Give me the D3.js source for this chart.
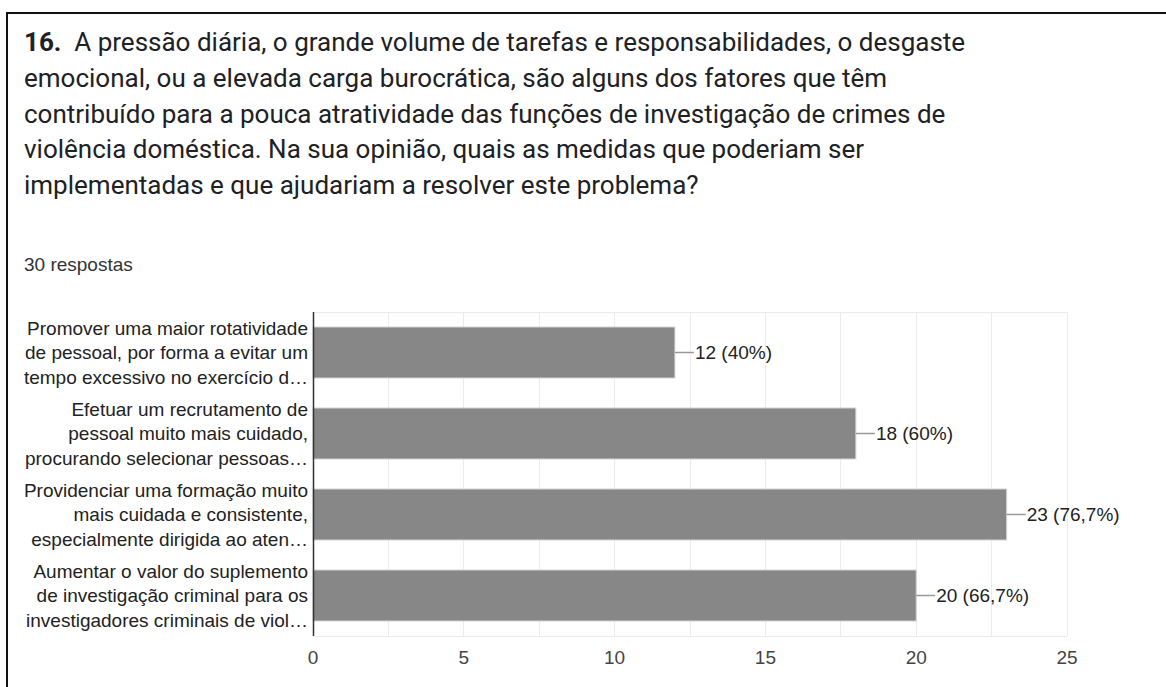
<!DOCTYPE html>
<html><head><meta charset="utf-8">
<script src="https://cdn.jsdelivr.net/npm/d3@7"></script>
<style>
html,body{margin:0;padding:0;background:#fff;}
svg{display:block;}
</style></head>
<body>
<svg id="c" width="1166" height="687"></svg>
<script>
const titleNumber = "16.";
const titleLines = [
  "  A pressão diária, o grande volume de tarefas e responsabilidades, o desgaste",
  "emocional, ou a elevada carga burocrática, são alguns dos fatores que têm",
  "contribuído para a pouca atratividade das funções de investigação de crimes de",
  "violência doméstica. Na sua opinião, quais as medidas que poderiam ser",
  "implementadas e que ajudariam a resolver este problema?"
];
const subtitle = "30 respostas";
const totalResponses = 30;
const categories = [
  ["Promover uma maior rotatividade", "de pessoal, por forma a evitar um", "tempo excessivo no exercício d…"],
  ["Efetuar um recrutamento de", "pessoal muito mais cuidado,", "procurando selecionar pessoas…"],
  ["Providenciar uma formação muito", "mais cuidada e consistente,", "especialmente dirigida ao aten…"],
  ["Aumentar o valor do suplemento", "de investigação criminal para os", "investigadores criminais de viol…"]
];
const values = [12, 18, 23, 20];
const xTicks = [0, 5, 10, 15, 20, 25];
const xGrid = [0, 2.5, 5, 7.5, 10, 12.5, 15, 17.5, 20, 22.5, 25];

const svg = d3.select("#c");
const sans = "'Liberation Sans', Arial, sans-serif";

// frame
svg.append("path").attr("d", "M7,1200 L7,13 L1300,13")
  .attr("fill", "none").attr("stroke", "#111").attr("stroke-width", 2);

// title
const t = svg.append("text").attr("x", 24).attr("y", 51)
  .attr("font-family", "Roboto, sans-serif").attr("font-size", 26).attr("fill", "#202124")
  .style("white-space", "pre");
titleLines.forEach((ln, i) => {
  if (i === 0) {
    t.append("tspan").attr("x", 24).attr("y", 51).attr("font-weight", "bold").text(titleNumber);
    t.append("tspan").text(ln);
  } else {
    t.append("tspan").attr("x", 24).attr("y", 51 + i * 35.8).text(ln);
  }
});

svg.append("text").attr("x", 24).attr("y", 271)
  .attr("font-family", sans).attr("font-size", 19)
  .attr("fill", "#333").text(subtitle);

const pLeft = 313, pRight = 1067, pTop = 312, pBottom = 636;
const x = d3.scaleLinear().domain([0, 25]).range([pLeft, pRight]);
const y = d3.scaleBand().domain(d3.range(values.length)).range([pTop, pBottom]).paddingInner(0.37).paddingOuter(0.185);

const g = svg.append("g");
// grid
g.selectAll("line.grid").data(xGrid).join("line")
  .attr("x1", d => x(d)).attr("x2", d => x(d)).attr("y1", pTop).attr("y2", pBottom)
  .attr("stroke", "#ebebeb").attr("stroke-width", 1).attr("shape-rendering", "crispEdges");
g.append("line").attr("x1", pLeft).attr("x2", pRight).attr("y1", pTop + 0.5).attr("y2", pTop + 0.5).attr("stroke", "#ebebeb");
g.append("line").attr("x1", pLeft).attr("x2", pRight).attr("y1", pBottom + 0.5).attr("y2", pBottom + 0.5).attr("stroke", "#ebebeb");

// bars
g.selectAll("rect.bar").data(values).join("rect")
  .attr("x", pLeft).attr("y", (d, i) => y(i)).attr("width", d => x(d) - pLeft).attr("height", y.bandwidth())
  .attr("fill", "#878787").attr("stroke", "#d6d6d6").attr("stroke-width", 1);

// baseline axis
g.append("line").attr("x1", pLeft + 0.5).attr("x2", pLeft + 0.5).attr("y1", pTop).attr("y2", pBottom)
  .attr("stroke", "#333").attr("stroke-width", 1.5);

// value labels
const fmt = d3.format(".1~f");
values.forEach((v, i) => {
  const cy = y(i) + y.bandwidth() / 2;
  g.append("line").attr("x1", x(v)).attr("x2", x(v) + 19).attr("y1", cy).attr("y2", cy)
    .attr("stroke", "#999").attr("stroke-width", 1.5);
  g.append("text").attr("x", x(v) + 20).attr("y", cy).attr("dy", "0.35em")
    .attr("font-family", sans).attr("font-size", 19).attr("fill", "#222")
    .text(v + " (" + fmt(v / totalResponses * 100).replace(".", ",") + "%)");
});

// category labels
categories.forEach((lines, i) => {
  const cy = y(i) + y.bandwidth() / 2;
  const txt = g.append("text").attr("text-anchor", "end")
    .attr("font-family", sans).attr("font-size", 19).attr("fill", "#222");
  lines.forEach((ln, j) => {
    txt.append("tspan").attr("x", pLeft - 5).attr("y", cy + (j - 1) * 24.5).attr("dy", "0.35em").text(ln);
  });
});

// x tick labels
g.selectAll("text.tick").data(xTicks).join("text")
  .attr("x", d => x(d)).attr("y", 664).attr("text-anchor", "middle")
  .attr("font-family", sans).attr("font-size", 19).attr("fill", "#444")
  .text(d => d);
</script>
</body></html>
